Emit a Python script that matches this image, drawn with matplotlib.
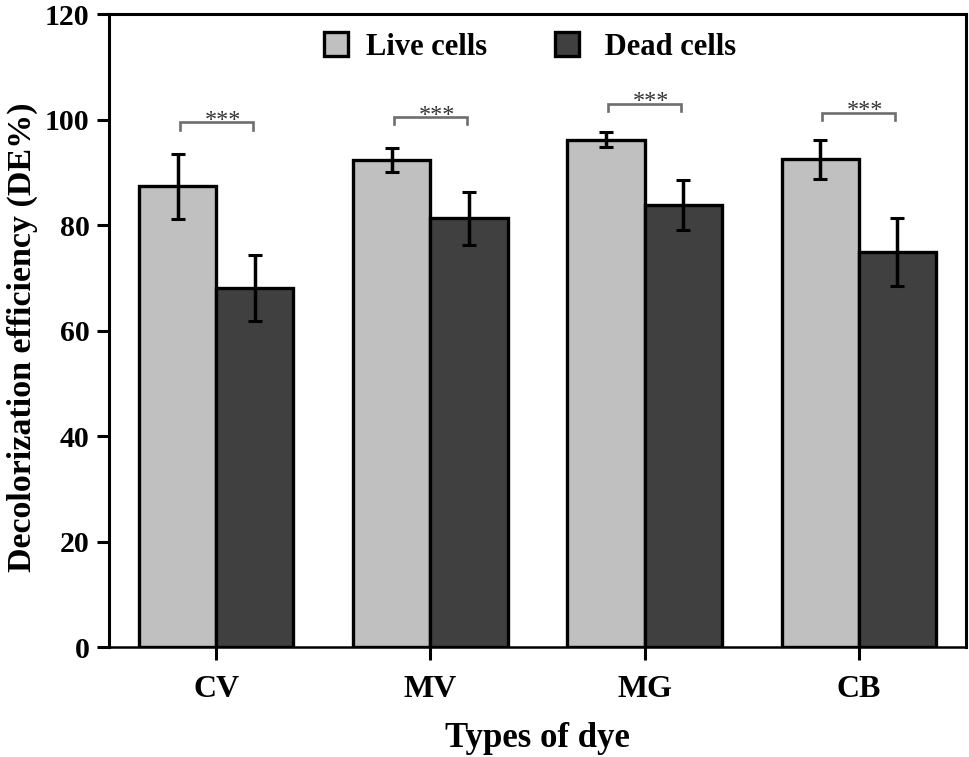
import numpy as np
import matplotlib
matplotlib.use("Agg")
import matplotlib.pyplot as plt

# ---- data ----
dyes = ["CV", "MV", "MG", "CB"]
live = [87.3, 92.3, 96.2, 92.5]
live_err = [6.2, 2.3, 1.4, 3.7]
dead = [68.1, 81.3, 83.8, 74.9]
dead_err = [6.3, 5.0, 4.7, 6.4]
sig_height = [99.5, 100.5, 103.0, 101.3]
sig_text = ["***", "***", "***", "***"]

plt.rcParams["font.family"] = ["Liberation Serif", "DejaVu Serif"]
plt.rcParams["font.weight"] = "bold"

fig = plt.figure(figsize=(9.69, 7.57), dpi=100)
ax = fig.add_axes([0.1125, 0.1453, 0.8844, 0.8362])

x = np.arange(len(dyes))
w = 0.36
err_kw = dict(ecolor="black", elinewidth=2.5, capsize=4.7, capthick=2.2, zorder=4)
ax.bar(x - w / 2, live, w, yerr=live_err, color="#c0c0c0", edgecolor="black",
       linewidth=2.4, label="Live cells", error_kw=err_kw, zorder=3)
ax.bar(x + w / 2, dead, w, yerr=dead_err, color="#404040", edgecolor="black",
       linewidth=2.4, label=" Dead cells", error_kw=err_kw, zorder=3)

# significance brackets
for i, h in enumerate(sig_height):
    x0, x1 = i - 0.17, i + 0.17
    ax.plot([x0, x0, x1, x1], [h - 1.4, h, h, h - 1.4], color="#6e6e6e",
            linewidth=1.9, solid_joinstyle="miter", zorder=5)
    ax.text(i + 0.03, h - 0.7, sig_text[i], ha="center", va="baseline",
            fontsize=17.5, fontweight="normal", color="#333333", zorder=5)

ax.set_xlim(-0.5, 3.5)
ax.set_ylim(0, 120)
ax.set_yticks(range(0, 121, 20))
ax.set_xticks(x)
ax.set_xticklabels(dyes)

for s in ["left", "top", "right"]:
    ax.spines[s].set_linewidth(2.2)
ax.spines["bottom"].set_linewidth(1.8)

ax.tick_params(axis="y", direction="out", length=8.6, width=2.2, labelsize=21.5, pad=5.5)
ax.tick_params(axis="x", direction="out", length=9, width=2.2, labelsize=23, pad=11)
for lab in ax.get_xticklabels() + ax.get_yticklabels():
    lab.set_fontweight("bold")

ax.set_xlabel("Types of dye", fontsize=25, fontweight="bold", labelpad=13)
ax.set_ylabel("Decolorization efficiency (DE%)", fontsize=24.5, fontweight="bold", labelpad=6)
ax.yaxis.set_label_coords(-0.083, 0.49)

leg = ax.legend(loc="center", bbox_to_anchor=(0.547, 0.938), bbox_transform=fig.transFigure,
                ncol=2, frameon=False, fontsize=22, handlelength=0.8, handleheight=0.8,
                handletextpad=0.6, columnspacing=2.2)
for t in leg.get_texts():
    t.set_fontweight("bold")

fig.savefig("out.png", dpi=100)
